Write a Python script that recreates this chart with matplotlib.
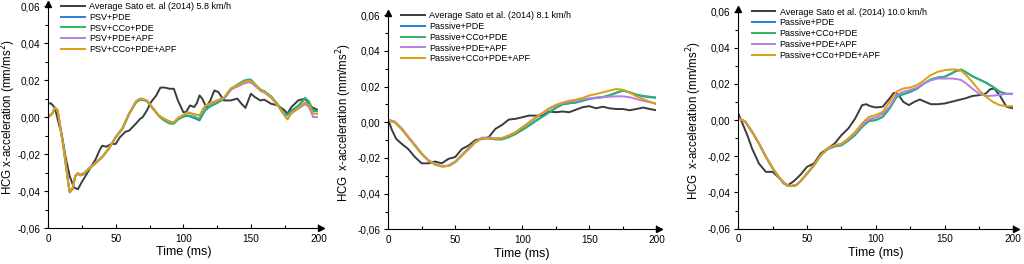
import numpy as np
import matplotlib.pyplot as plt
from matplotlib.ticker import MultipleLocator, FuncFormatter

plt.rcParams['font.family'] = ['Liberation Sans', 'DejaVu Sans']

# ---- panel 1 : 5.8 km/h ----
t1_exp = [0, 2, 5, 8, 10, 13, 16, 19, 22, 25, 30, 35, 38, 40, 43, 47, 50, 53, 57, 60, 65, 68, 70, 73,
          76, 80, 83, 86, 90, 93, 96, 100, 102, 105, 108, 110, 112, 114, 117, 120, 123, 126, 130, 135,
          140, 143, 146, 150, 153, 157, 160, 165, 170, 175, 177, 180, 185, 190, 195, 200]
exp1 = [0.0072, 0.0075, 0.005, -0.004, -0.009, -0.022, -0.032, -0.038, -0.039, -0.035, -0.029, -0.023,
        -0.018, -0.0155, -0.016, -0.0145, -0.0145, -0.011, -0.008, -0.0073, -0.0035, -0.001, 0.0, 0.0035,
        0.008, 0.0117, 0.0159, 0.016, 0.0153, 0.0153, 0.009, 0.0027, 0.0027, 0.0063, 0.0054, 0.0075,
        0.0117, 0.010, 0.0054, 0.009, 0.0144, 0.0135, 0.009, 0.009, 0.010, 0.0072, 0.005, 0.0126, 0.0108,
        0.009, 0.0094, 0.0072, 0.0063, 0.0036, 0.0018, 0.0054, 0.009, 0.010, 0.0054, 0.0036]
t1_sim = [0, 3, 5, 7, 9, 11, 13, 15, 16, 18, 20, 22, 24, 27, 30, 35, 40, 45, 50, 55, 60, 65, 68, 70, 73,
          77, 82, 86, 90, 93, 96, 100, 103, 108, 112, 116, 120, 125, 130, 135, 140, 145, 148, 150, 153,
          157, 160, 165, 170, 175, 177, 180, 185, 190, 193, 196, 200]
pde1 = [0.0, 0.0018, 0.005, 0.0036, -0.0054, -0.0144, -0.025, -0.036, -0.0405, -0.039, -0.032, -0.0306,
        -0.0315, -0.0306, -0.028, -0.025, -0.0216, -0.017, -0.011, -0.0063, 0.0018, 0.008, 0.0095, 0.0093,
        0.0088, 0.0052, 0.0007, -0.0016, -0.0031, -0.0033, -0.0012, 0.0002, 0.0008, -0.0005, -0.0018,
        0.0035, 0.0058, 0.0076, 0.0098, 0.0146, 0.0173, 0.0194, 0.0200, 0.0200, 0.0174, 0.0146, 0.0138,
        0.0110, 0.0066, 0.0015, 0.0018, 0.0035, 0.0060, 0.0098, 0.0080, 0.0035, 0.0030]
cco1 = [0.0, 0.0018, 0.005, 0.0036, -0.0054, -0.0144, -0.025, -0.036, -0.0405, -0.039, -0.032, -0.0306,
        -0.0315, -0.0306, -0.028, -0.025, -0.0216, -0.017, -0.011, -0.0063, 0.0018, 0.008, 0.0093, 0.0092,
        0.0087, 0.0050, 0.0004, -0.0020, -0.0035, -0.0036, -0.0014, 0.0005, 0.0010, 0.0002, -0.0010,
        0.0038, 0.0060, 0.0078, 0.0100, 0.0150, 0.0176, 0.0198, 0.0203, 0.0203, 0.0178, 0.0150, 0.0140,
        0.0112, 0.0068, 0.0012, 0.0010, 0.0030, 0.0060, 0.0104, 0.0085, 0.0030, 0.0035]
apf1 = [0.0, 0.0020, 0.0052, 0.0036, -0.0056, -0.0146, -0.0252, -0.0362, -0.0405, -0.039, -0.0318,
        -0.0302, -0.0310, -0.0300, -0.0278, -0.0248, -0.0214, -0.0168, -0.0106, -0.0058, 0.0022, 0.0086,
        0.0100, 0.0099, 0.0090, 0.0055, 0.0008, -0.0010, -0.0024, -0.0028, -0.0005, 0.0012, 0.0025,
        0.0015, 0.0008, 0.0058, 0.0072, 0.0088, 0.0102, 0.0150, 0.0165, 0.0182, 0.0188, 0.0186, 0.0170,
        0.0142, 0.0132, 0.0104, 0.0060, 0.0008, -0.0012, 0.0020, 0.0045, 0.0070, 0.0055, 0.0000, 0.0000]
all1 = [0.0, 0.0018, 0.0050, 0.0035, -0.0056, -0.0146, -0.0252, -0.0362, -0.0408, -0.039, -0.0318,
        -0.0305, -0.0314, -0.0303, -0.0280, -0.0250, -0.0216, -0.0170, -0.0108, -0.0060, 0.0020, 0.0084,
        0.0098, 0.0097, 0.0089, 0.0054, 0.0008, -0.0010, -0.0025, -0.0028, -0.0006, 0.0012, 0.0026,
        0.0016, 0.0009, 0.0060, 0.0076, 0.0090, 0.0104, 0.0155, 0.0172, 0.0190, 0.0196, 0.0195, 0.0175,
        0.0146, 0.0136, 0.0108, 0.0062, 0.0008, -0.0012, 0.0022, 0.0048, 0.0078, 0.0065, 0.0018, 0.0018]

# ---- panel 2 : 8.1 km/h ----
t2_exp = [0, 3, 6, 10, 15, 20, 25, 30, 35, 40, 45, 50, 55, 60, 65, 70, 75, 80, 85, 90, 95, 100, 105, 110,
          115, 120, 125, 130, 135, 140, 145, 150, 155, 160, 165, 170, 175, 180, 185, 190, 195, 200]
exp2 = [0.0015, -0.0046, -0.0093, -0.012, -0.015, -0.0195, -0.023, -0.023, -0.022, -0.023, -0.0205,
        -0.0195, -0.015, -0.013, -0.010, -0.0093, -0.0084, -0.0037, -0.0015, 0.0015, 0.0019, 0.0028,
        0.0037, 0.0037, 0.0037, 0.006, 0.0056, 0.006, 0.0056, 0.007, 0.0084, 0.009, 0.0078, 0.0087,
        0.0078, 0.0074, 0.0074, 0.0067, 0.0074, 0.0082, 0.0074, 0.0067]
t2_sim = [0, 5, 10, 15, 20, 25, 30, 35, 40, 45, 50, 55, 60, 65, 70, 75, 80, 85, 90, 95, 100, 105, 110,
          115, 120, 125, 130, 135, 140, 145, 150, 155, 160, 165, 170, 175, 180, 185, 190, 195, 200]
pde2 = [0.0012, 0.0, -0.0037, -0.0084, -0.013, -0.0177, -0.0214, -0.0236, -0.0247, -0.0245, -0.0223,
        -0.0186, -0.0149, -0.0112, -0.0090, -0.0090, -0.0095, -0.0095, -0.0082, -0.0064, -0.0042, -0.0018,
        0.0008, 0.0032, 0.0056, 0.0080, 0.0100, 0.0106, 0.0110, 0.0120, 0.0130, 0.0136, 0.0140, 0.0150,
        0.0164, 0.0177, 0.0167, 0.0153, 0.0145, 0.0140, 0.0137]
cco2 = [0.0012, 0.0, -0.0037, -0.0084, -0.013, -0.0177, -0.0214, -0.0236, -0.0247, -0.0245, -0.0223,
        -0.0186, -0.0149, -0.0112, -0.0090, -0.0090, -0.0096, -0.0096, -0.0084, -0.0066, -0.0044, -0.0020,
        0.0006, 0.0030, 0.0055, 0.0080, 0.0100, 0.0106, 0.0111, 0.0121, 0.0131, 0.0137, 0.0141, 0.0151,
        0.0165, 0.0178, 0.0168, 0.0155, 0.0148, 0.0143, 0.0138]
apf2 = [0.0015, 0.0004, -0.0032, -0.0080, -0.0126, -0.0174, -0.0212, -0.0234, -0.0245, -0.0242,
        -0.0220, -0.0182, -0.0144, -0.0108, -0.0086, -0.0086, -0.0090, -0.0088, -0.0074, -0.0056,
        -0.0030, -0.0004, 0.0024, 0.0050, 0.0075, 0.0092, 0.0106, 0.0114, 0.0120, 0.0127, 0.0134, 0.0138,
        0.0140, 0.0143, 0.0145, 0.0145, 0.0140, 0.0130, 0.0120, 0.0112, 0.0104]
all2 = [0.0010, 0.0, -0.0037, -0.0084, -0.0130, -0.0177, -0.0214, -0.0236, -0.0247, -0.0245, -0.0223,
        -0.0186, -0.0149, -0.0112, -0.0090, -0.0090, -0.0093, -0.0090, -0.0074, -0.0056, -0.0028, 0.0,
        0.0028, 0.0052, 0.0078, 0.0097, 0.0110, 0.0120, 0.0126, 0.0136, 0.0150, 0.0158, 0.0167, 0.0177,
        0.0186, 0.0182, 0.0167, 0.0145, 0.0130, 0.0115, 0.0102]

# ---- panel 3 : 10.0 km/h ----
t3_exp = [0, 3, 7, 10, 15, 20, 25, 30, 33, 36, 40, 45, 50, 55, 60, 65, 70, 75, 80, 85, 90, 93, 96, 100,
          105, 110, 113, 116, 120, 124, 128, 132, 136, 140, 145, 150, 155, 160, 165, 170, 175, 180, 183,
          186, 190, 195, 200]
exp3 = [0.0037, -0.0018, -0.0092, -0.0157, -0.024, -0.0286, -0.0286, -0.0322, -0.035, -0.036, -0.034,
        -0.0304, -0.0258, -0.024, -0.0184, -0.0157, -0.013, -0.0083, -0.0046, 0.0009, 0.0083, 0.0088,
        0.0077, 0.007, 0.0074, 0.012, 0.0151, 0.0144, 0.0101, 0.0083, 0.0101, 0.0114, 0.0101, 0.0088,
        0.0088, 0.0092, 0.0101, 0.0111, 0.012, 0.0133, 0.0138, 0.0147, 0.017, 0.0175, 0.0138, 0.0074,
        0.0065]
t3_sim = [0, 5, 10, 15, 20, 25, 30, 35, 38, 42, 45, 50, 55, 60, 65, 70, 75, 80, 85, 90, 95, 100, 105,
          110, 115, 120, 125, 130, 135, 140, 145, 150, 155, 158, 162, 165, 170, 175, 180, 185, 190, 195, 200]
pde3 = [0.0009, -0.0009, -0.0065, -0.013, -0.0203, -0.0267, -0.0322, -0.036, -0.0365, -0.036, -0.034,
        -0.0295, -0.025, -0.0194, -0.0160, -0.0145, -0.0138, -0.0112, -0.0080, -0.0037, -0.0005, 0.0,
        0.0018, 0.0065, 0.0128, 0.0143, 0.0156, 0.0174, 0.0202, 0.0224, 0.0235, 0.0240, 0.0257, 0.0270,
        0.0278, 0.0268, 0.0244, 0.0226, 0.0208, 0.0185, 0.0158, 0.0146, 0.0146]
cco3 = [0.0009, -0.0009, -0.0065, -0.013, -0.0203, -0.0267, -0.0322, -0.036, -0.0365, -0.036, -0.034,
        -0.0295, -0.025, -0.0194, -0.0160, -0.0146, -0.0140, -0.0114, -0.0082, -0.0038, -0.0004, 0.0,
        0.0018, 0.0065, 0.0129, 0.0144, 0.0157, 0.0175, 0.0203, 0.0225, 0.0236, 0.0240, 0.0258, 0.0272,
        0.0280, 0.0267, 0.0243, 0.0225, 0.0207, 0.0184, 0.0157, 0.0144, 0.0144]
apf3 = [0.0012, -0.0006, -0.0062, -0.0127, -0.0200, -0.0264, -0.0320, -0.0358, -0.0364, -0.0360,
        -0.0340, -0.0296, -0.0250, -0.0194, -0.0158, -0.0142, -0.0134, -0.0106, -0.0072, -0.0028, 0.0004,
        0.0015, 0.0035, 0.0074, 0.0138, 0.0157, 0.0166, 0.0180, 0.0203, 0.0220, 0.0230, 0.0230, 0.0230,
        0.0228, 0.0222, 0.0207, 0.0175, 0.0147, 0.0133, 0.0135, 0.0140, 0.0145, 0.0145]
all3 = [0.0009, -0.0009, -0.0065, -0.013, -0.0203, -0.0267, -0.0322, -0.036, -0.0365, -0.036, -0.034,
        -0.0295, -0.025, -0.0194, -0.0157, -0.0138, -0.0130, -0.0101, -0.0065, -0.0018, 0.0018, 0.0028,
        0.0046, 0.0101, 0.0157, 0.0175, 0.0180, 0.0194, 0.0220, 0.0249, 0.0267, 0.0276, 0.0280, 0.0280,
        0.0273, 0.0254, 0.0212, 0.0166, 0.0130, 0.0101, 0.0083, 0.0077, 0.0077]

labels1 = ['Average Sato et. al (2014) 5.8 km/h', 'PSV+PDE', 'PSV+CCo+PDE', 'PSV+PDE+APF', 'PSV+CCo+PDE+APF']
labels2 = ['Average Sato et al. (2014) 8.1 km/h', 'Passive+PDE', 'Passive+CCo+PDE', 'Passive+PDE+APF',
           'Passive+CCo+PDE+APF']
labels3 = ['Average Sato et al. (2014) 10.0 km/h', 'Passive+PDE', 'Passive+CCo+PDE', 'Passive+PDE+APF',
           'Passive+CCo+PDE+APF']

colors = ['#3c3c3c', '#2a7fd8', '#2eb36a', '#b47ee6', '#d9a012']


def comma(v, pos):
    return ('%.2f' % v).replace('.', ',')


def draw(ax, t_exp, exp, t_sim, sims, labels, ylabel, ylab_x):
    ax.plot(t_exp, exp, color=colors[0], lw=1.4, label=labels[0])
    for s, c, lab in zip(sims, colors[1:], labels[1:]):
        ax.plot(t_sim, s, color=c, lw=1.4, label=lab)
    ax.set_xlim(0, 200)
    ax.set_ylim(-0.06, 0.06)
    ax.xaxis.set_major_locator(MultipleLocator(50))
    ax.xaxis.set_minor_locator(MultipleLocator(25))
    ax.yaxis.set_major_locator(MultipleLocator(0.02))
    ax.yaxis.set_minor_locator(MultipleLocator(0.01))
    ax.yaxis.set_major_formatter(FuncFormatter(comma))
    ax.spines['top'].set_visible(False)
    ax.spines['right'].set_visible(False)
    ax.tick_params(which='both', labelsize=7.2, width=0.8)
    ax.tick_params(axis='y', which='both', direction='out', pad=2.5)
    ax.tick_params(axis='x', which='both', direction='in', pad=4)
    ax.tick_params(which='major', length=3)
    ax.tick_params(which='minor', length=2)
    ax.plot(1.01, 0, '>', color='black', ms=4, transform=ax.transAxes, clip_on=False)
    ax.plot(0, 1.01, '^', color='black', ms=4, transform=ax.transAxes, clip_on=False)
    ax.set_xlabel('Time (ms)', fontsize=9, labelpad=2)
    ax.set_ylabel(ylabel, fontsize=8.3)
    ax.yaxis.set_label_coords(ylab_x, 0.5)
    ax.legend(loc='upper left', bbox_to_anchor=(0.035, 1.035), frameon=False, fontsize=6.5,
              handlelength=2.6, handletextpad=0.5, labelspacing=0.2, borderaxespad=0)


fig = plt.figure(figsize=(10.24, 2.64), dpi=100)
ax1 = fig.add_axes([0.047, 0.136, 0.264, 0.841])
ax2 = fig.add_axes([0.379, 0.131, 0.262, 0.812])
ax3 = fig.add_axes([0.721, 0.134, 0.2686, 0.822])

draw(ax1, t1_exp, exp1, t1_sim, [pde1, cco1, apf1, all1], labels1,
     'HCG x-acceleration (mm/ms$^2$)', -0.112)
draw(ax2, t2_exp, exp2, t2_sim, [pde2, cco2, apf2, all2], labels2,
     'HCG  x-acceleration (mm/ms$^2$)', -0.126)
draw(ax3, t3_exp, exp3, t3_sim, [pde3, cco3, apf3, all3], labels3,
     'HCG  x-acceleration (mm/ms$^2$)', -0.124)

fig.savefig('out.png', dpi=100)
